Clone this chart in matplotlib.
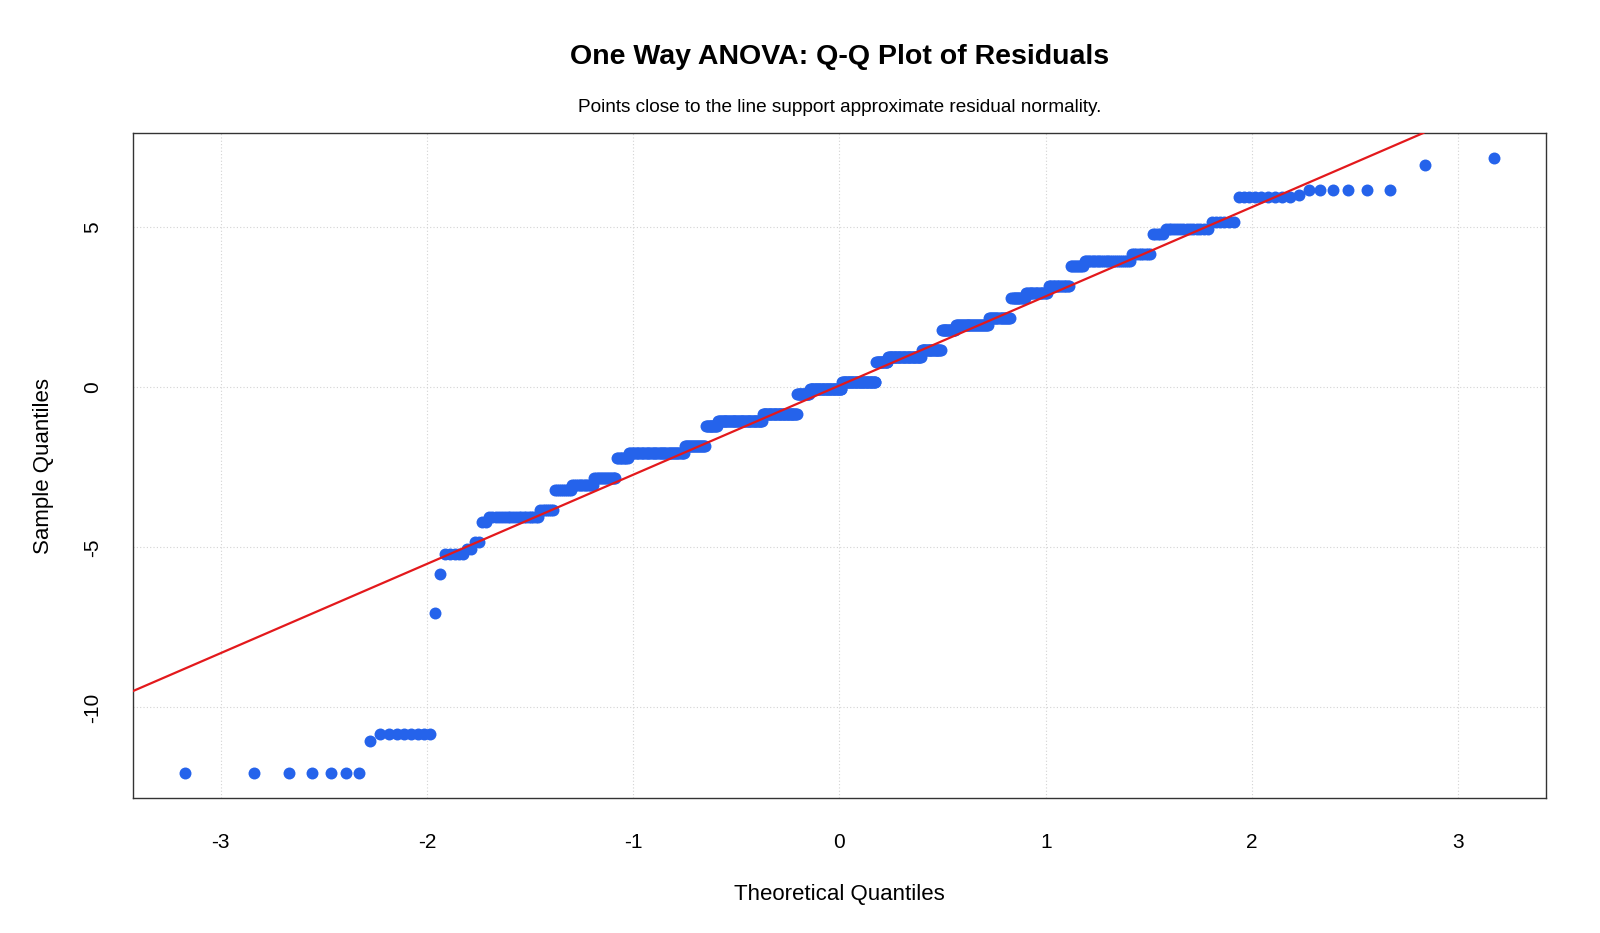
import numpy as np
import matplotlib.pyplot as plt
from statistics import NormalDist

plt.rcParams['font.family'] = ['Liberation Sans', 'DejaVu Sans']

levels = [-12.06, -11.06, -10.82, -7.06, -5.82, -5.21, -5.06, -4.82, -4.21, -4.06,
          -3.82, -3.21, -3.06, -2.82, -2.21, -2.06, -1.82, -1.21, -1.06, -0.82,
          -0.21, -0.06, 0.18, 0.79, 0.94, 1.18, 1.79, 1.94, 2.18, 2.79,
          2.94, 3.18, 3.79, 3.94, 4.18, 4.79, 4.94, 5.18, 5.94, 6.0,
          6.18, 6.94, 7.18]
counts = [7, 1, 8, 1, 1, 5, 2, 2, 2, 19,
          7, 9, 13, 15, 9, 48, 21, 13, 51, 42,
          16, 41, 43, 15, 41, 23, 16, 34, 21, 13,
          18, 16, 9, 26, 9, 5, 14, 6, 9, 1,
          6, 1, 1]

x_ticks = [-3, -2, -1, 0, 1, 2, 3]
y_ticks = [-10, -5, 0, 5]

title = "One Way ANOVA: Q-Q Plot of Residuals"
subtitle = "Points close to the line support approximate residual normality."

# qqnorm style positions
resid = np.repeat(levels, counts)
n = len(resid)
nd = NormalDist()
probs = (np.arange(1, n + 1) - 0.5) / n
theo = np.array([nd.inv_cdf(p) for p in probs])

# qqline through the quartiles
qy = np.quantile(resid, [0.25, 0.75])
qx = np.array([nd.inv_cdf(0.25), nd.inv_cdf(0.75)])
slope = (qy[1] - qy[0]) / (qx[1] - qx[0])
intercept = qy[0] - slope * qx[0]

fig = plt.figure(figsize=(16, 9.33), dpi=100)
ax = fig.add_axes([133 / 1600, 1 - 798 / 933, 1413 / 1600, 665 / 933])

ax.scatter(theo, resid, s=74, color='#2563EB', linewidths=0, zorder=3)
ax.axline((0, intercept), slope=slope, color='#E3191C', lw=1.6, zorder=4)

def pad_range(v):
    lo, hi = v.min(), v.max()
    d = (hi - lo) * 0.04
    return lo - d, hi + d

ax.set_xlim(*pad_range(theo))
ax.set_ylim(*pad_range(resid))
ax.set_xticks(x_ticks)
ax.set_yticks(y_ticks)
ax.set_xticklabels([str(t) for t in x_ticks])
ax.set_yticklabels([str(t) for t in y_ticks], rotation=90, va='center')
ax.grid(True, color='#D3D3D3', linestyle=(0, (1, 2)), linewidth=0.8)
ax.set_axisbelow(True)
ax.tick_params(axis='x', length=0, pad=25, labelsize=15)
ax.tick_params(axis='y', length=0, pad=22, labelsize=15)
for s in ax.spines.values():
    s.set_color('#333333')
    s.set_linewidth(1.0)

ax.set_xlabel("Theoretical Quantiles", fontsize=16)
ax.xaxis.set_label_coords(0.5, -(884 - 798) / 665, transform=ax.transAxes)
ax.set_ylabel("Sample Quantiles", fontsize=16)
ax.yaxis.set_label_coords(-(133 - 54) / 1413, 0.5, transform=ax.transAxes)

cx = (133 + 1546) / 2 / 1600
fig.text(cx, 1 - 57 / 933, title, ha='center', va='center', fontsize=20.5, fontweight='bold')
fig.text(cx, 1 - 107 / 933, subtitle, ha='center', va='center', fontsize=13.7)

fig.savefig('out.png', dpi=100, facecolor='white')
